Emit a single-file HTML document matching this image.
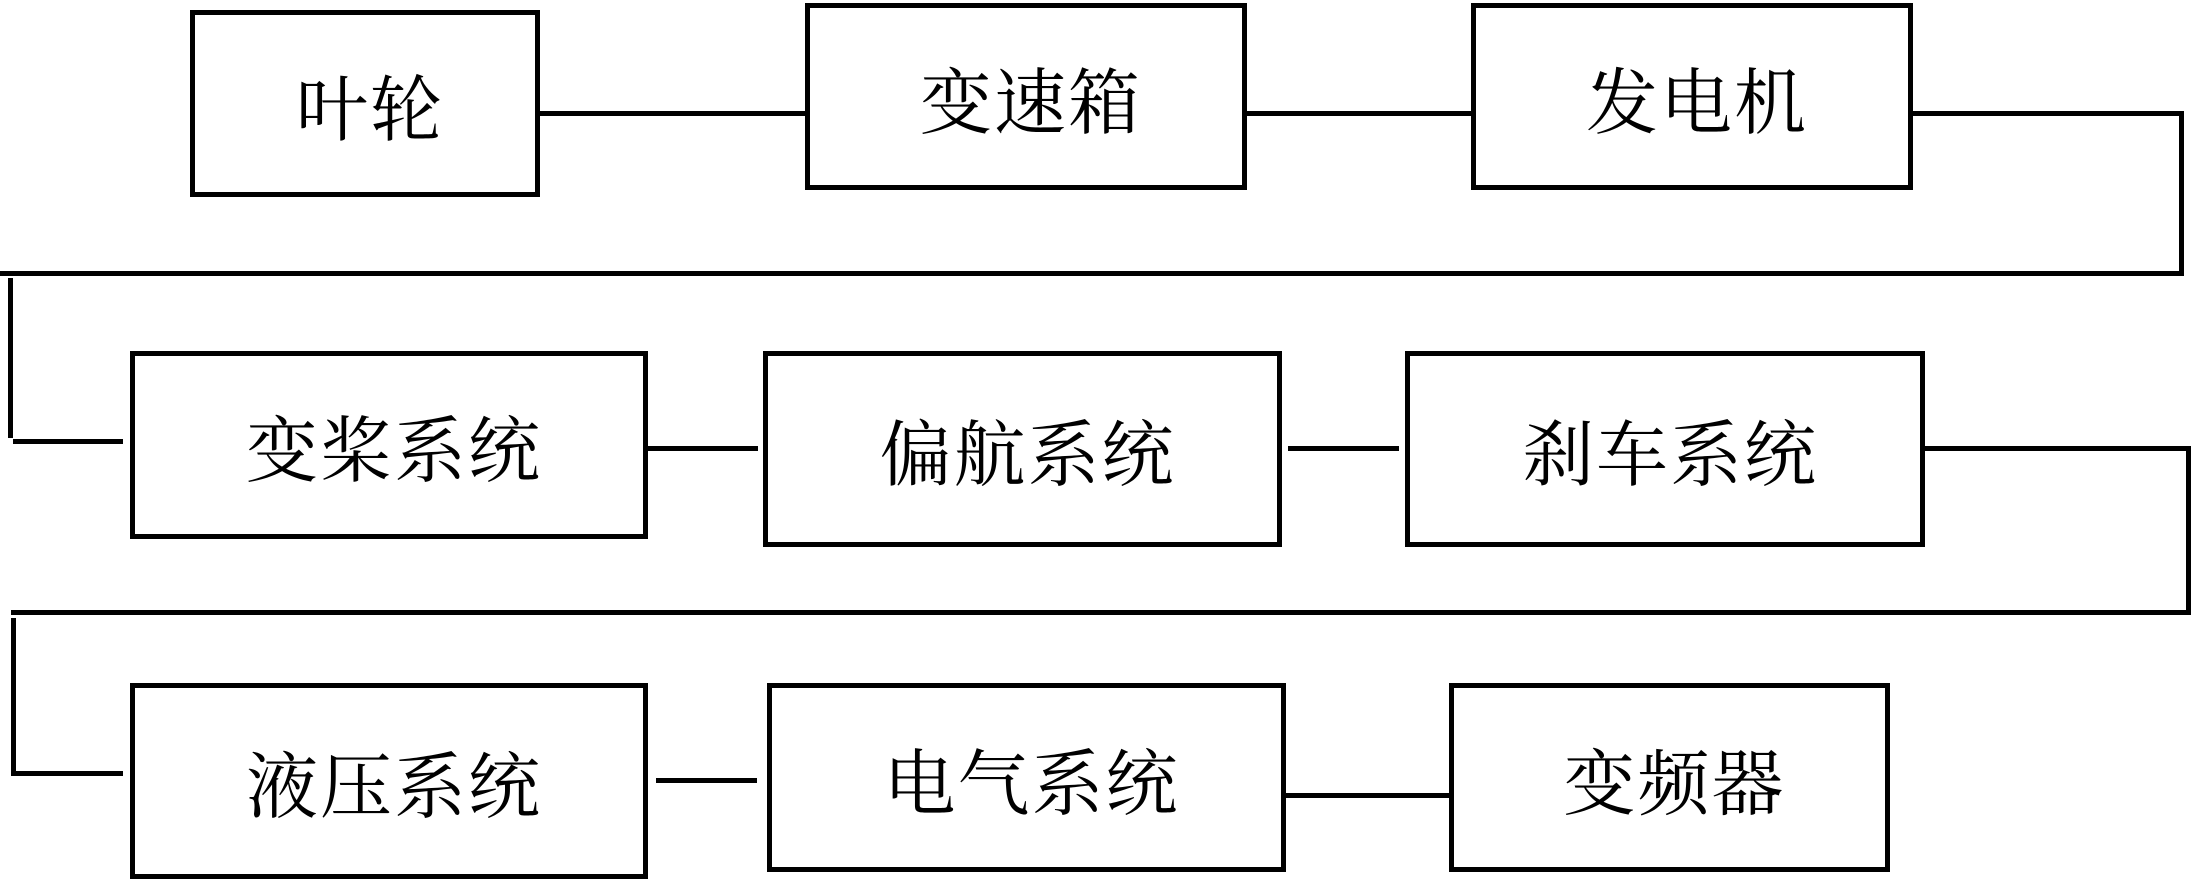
<!DOCTYPE html>
<html><head><meta charset="utf-8"><style>
html,body{margin:0;padding:0;background:#fff;}
body{width:2196px;height:882px;position:relative;overflow:hidden;}
.b{position:absolute;border:5px solid #000;box-sizing:border-box;display:flex;align-items:center;justify-content:center;font-family:"Liberation Serif","Noto Serif CJK SC",serif;font-size:72px;color:#000;letter-spacing:2px;padding-left:10px;}
.h{position:absolute;height:5px;background:#000;}
.v{position:absolute;width:5px;background:#000;}
</style></head><body>
<div class="b" style="left:190px;top:10px;width:350px;height:187px;">叶轮</div>
<div class="b" style="left:805px;top:3px;width:442px;height:187px;">变速箱</div>
<div class="b" style="left:1471px;top:3px;width:442px;height:187px;">发电机</div>
<div class="h" style="left:540px;top:111px;width:265px;"></div>
<div class="h" style="left:1247px;top:111px;width:224px;"></div>
<div class="h" style="left:1913px;top:111px;width:270px;"></div>
<div class="v" style="left:2179px;top:111px;height:162px;"></div>
<div class="h" style="left:0;top:271px;width:2184px;"></div>
<div class="v" style="left:8px;top:278px;height:160px;"></div>
<div class="h" style="left:13px;top:439px;width:110px;"></div>

<div class="b" style="left:130px;top:351px;width:518px;height:188px;">变桨系统</div>
<div class="b" style="left:763px;top:351px;width:519px;height:196px;">偏航系统</div>
<div class="b" style="left:1405px;top:351px;width:520px;height:196px;">刹车系统</div>
<div class="h" style="left:648px;top:446px;width:110px;"></div>
<div class="h" style="left:1288px;top:446px;width:111px;"></div>
<div class="h" style="left:1925px;top:446px;width:265px;"></div>
<div class="v" style="left:2186px;top:446px;height:166px;"></div>
<div class="h" style="left:11px;top:610px;width:2180px;"></div>
<div class="v" style="left:11px;top:618px;height:157px;"></div>
<div class="h" style="left:11px;top:771px;width:112px;"></div>

<div class="b" style="left:130px;top:683px;width:518px;height:196px;">液压系统</div>
<div class="b" style="left:767px;top:683px;width:519px;height:189px;">电气系统</div>
<div class="b" style="left:1449px;top:683px;width:441px;height:189px;">变频器</div>
<div class="h" style="left:656px;top:778px;width:101px;"></div>
<div class="h" style="left:1286px;top:793px;width:163px;"></div>
</body></html>
